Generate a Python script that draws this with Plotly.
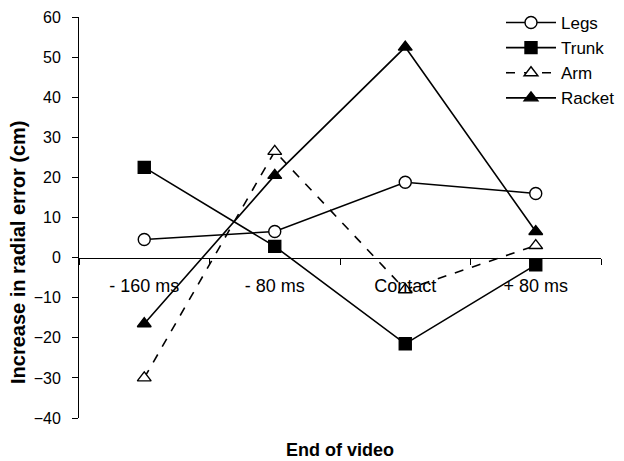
import plotly.graph_objects as go

categories = ["- 160 ms", "- 80 ms", "Contact", "+ 80 ms"]
legs = [4.5, 6.5, 18.8, 16.0]
trunk = [22.5, 2.8, -21.5, -1.8]
arm = [-30.0, 26.5, -8.0, 3.0]
racket = [-16.5, 20.5, 52.5, 6.5]
y_ticks = [60, 50, 40, 30, 20, 10, 0, -10, -20, -30, -40]

FONT = "Arial, Liberation Sans, sans-serif"
# page body has an 8px margin; figure sized to fill the rest of the window
OFF = 8
W, H = 624 - OFF, 461 - OFF
L, R, T, B = 79 - OFF, 23, 17 - OFF, 43
PW, PH = W - L - R, H - T - B

def px_x(sx):
    return (sx - OFF - L) / PW

def px_y(sy):
    return (H - B - (sy - OFF)) / PH

fig = go.Figure()

def add(name, vals, symbol, fill, dash):
    fig.add_trace(go.Scatter(
        x=categories, y=vals, name=name, mode="lines+markers",
        line=dict(color="black", width=1.6, dash=dash),
        marker=dict(symbol=symbol, size=12, color=fill,
                    line=dict(color="black", width=1.4)),
    ))

add("Legs", legs, "circle", "white", "solid")
add("Trunk", trunk, "square", "black", "solid")
add("Arm", arm, "triangle-up", "white", "dash")
add("Racket", racket, "triangle-up", "black", "solid")

fig.update_layout(
    width=W, height=H,
    margin=dict(l=L, r=R, t=T, b=B, autoexpand=False),
    paper_bgcolor="white", plot_bgcolor="white",
    font=dict(family=FONT, size=17, color="black"),
    showlegend=True,
    legend=dict(x=px_x(501), y=px_y(5), xanchor="left", yanchor="top",
                bgcolor="rgba(0,0,0,0)", font=dict(size=17),
                itemwidth=50, tracegroupgap=0),
    xaxis=dict(
        type="category", range=[-0.5, 3.5],
        anchor="free", position=0.4,
        showline=True, linecolor="black", linewidth=1,
        ticks="outside", tickson="boundaries", ticklen=6, tickcolor="black",
        showgrid=False, zeroline=False,
        tickfont=dict(size=18), ticklabelstandoff=12,
        ticklabeloverflow="allow",
    ),
    yaxis=dict(
        range=[-40, 60], tickvals=y_ticks,
        showline=True, linecolor="black", linewidth=1,
        ticks="outside", ticklen=6, tickcolor="black",
        showgrid=False, zeroline=False,
        tickfont=dict(size=16), ticklabelstandoff=8,
        ticklabeloverflow="allow",
    ),
    annotations=[
        dict(text="<b>Increase in radial error (cm)</b>",
             x=px_x(18), y=px_y(253),
             xref="paper", yref="paper", showarrow=False, textangle=-90,
             font=dict(size=20), xanchor="center", yanchor="middle"),
        dict(text="<b>End of video</b>",
             x=px_x(340), y=px_y(450),
             xref="paper", yref="paper", showarrow=False,
             font=dict(size=18), xanchor="center", yanchor="middle"),
    ],
)

fig.write_html("out.html")
